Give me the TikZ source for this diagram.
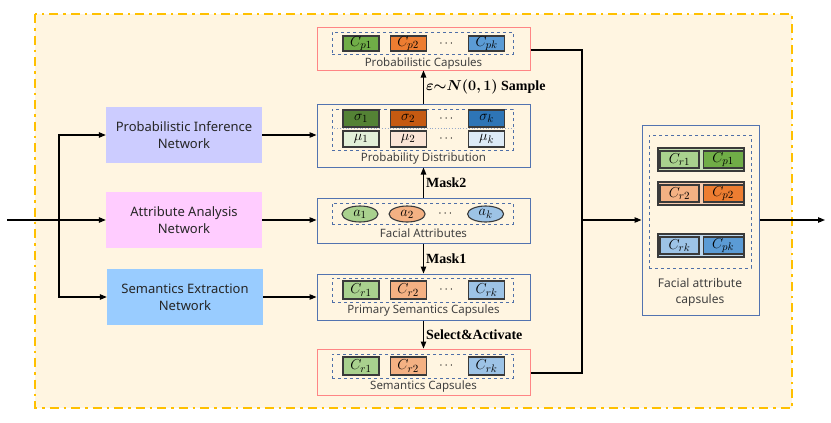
\documentclass[tikz,border=0pt]{standalone}
\usepackage{amsmath,bm}
\usepackage{fontspec}
\setmainfont{Liberation Serif}
\setsansfont{Noto Sans}
\usetikzlibrary{arrows.meta, positioning, shapes.geometric}
\definecolor{framey}{HTML}{FFC000}
\definecolor{cream}{HTML}{FFF5E1}
\definecolor{netp}{HTML}{CCCCFF}
\definecolor{neta}{HTML}{FFCCFF}
\definecolor{nets}{HTML}{99CCFF}
\definecolor{boxblue}{HTML}{5273B0}
\definecolor{boxred}{HTML}{FF8585}
\definecolor{dashblue}{HTML}{4F6FA8}
\definecolor{cellline}{HTML}{3A3A3A}
\definecolor{g1}{HTML}{A9D18E}
\definecolor{g2}{HTML}{70AD47}
\definecolor{g3}{HTML}{548235}
\definecolor{g4}{HTML}{E2F0D9}
\definecolor{g5}{HTML}{C5E0B4}
\definecolor{o1}{HTML}{F4B183}
\definecolor{o2}{HTML}{ED7D31}
\definecolor{o3}{HTML}{C55A11}
\definecolor{o4}{HTML}{FBE5D6}
\definecolor{o5}{HTML}{F8CBAD}
\definecolor{b1}{HTML}{9DC3E6}
\definecolor{b2}{HTML}{5B9BD5}
\definecolor{b3}{HTML}{2E75B6}
\definecolor{b4}{HTML}{DEEBF7}
\definecolor{b5}{HTML}{BDD7EE}

\begin{document}
\begin{tikzpicture}[
        x=1pt, y=-1pt,
        netbox/.style={rectangle, align=center, minimum width=156pt, minimum height=56pt, inner sep=0pt, font=\sffamily\fontsize{13}{17}\selectfont, text=black!85},
        modbox/.style={rectangle, draw=boxblue, line width=1pt, minimum width=213pt, inner sep=0pt},
        capbox/.style={modbox, draw=boxred},
        dashbox/.style={rectangle, draw=dashblue, dashed, line width=1pt, inner sep=0pt},
        caption/.style={font=\sffamily\fontsize{11.5}{15}\selectfont, text=black!75, inner sep=0pt},
        cell/.style={rectangle, draw=cellline, line width=1.1pt, minimum width=36pt, minimum height=15pt, inner sep=0pt, font=\fontsize{15}{15}\selectfont},
        attcell/.style={ellipse, draw=cellline, line width=1.1pt, minimum width=36pt, minimum height=16pt, inner sep=0pt, font=\fontsize{15}{15}\selectfont},
        dots/.style={minimum width=41pt, inner sep=0pt, font=\fontsize{12}{12}\selectfont},
        pairbox/.style={rectangle, draw=cellline, line width=1.1pt, minimum width=86pt, minimum height=23pt, inner sep=0pt},
        paircell/.style={cell, minimum width=39pt, minimum height=17pt},
        lbl/.style={font=\bfseries\fontsize{14}{16}\selectfont, inner sep=2pt},
        arrow/.style={-{Triangle[length=7pt, width=5.5pt]}, line width=1.1pt},
        link/.style={line width=1.1pt}
    ]
        \useasboundingbox (0,0) rectangle (831,423);

        % FRAME
        \draw[framey, fill=cream, line width=2.2pt, dash pattern=on 9pt off 5pt on 2.5pt off 5pt] (35,14) rectangle (792,408);

        % NETWORKS
        \node[netbox, fill=netp] (probnet) at (184,135) {Probabilistic Inference\\Network};
        \node[netbox, fill=neta] (attnet) at (184,220) {Attribute Analysis\\Network};
        \node[netbox, fill=nets] (semnet) at (185,297) {Semantics Extraction\\Network};

        % PROBABILISTIC CAPSULES
        \node[capbox, minimum height=43pt] (probcaps) at (423.5,48.5) {};
        \node[dashbox, minimum width=181pt, minimum height=22pt] (probcapsdash) at (422.5,43) {};
        \node[cell, fill=g2] (cp1) at (361,43.5) {$C_{p1}$};
        \node[cell, fill=o2, right=10pt of cp1] (cp2) {$C_{p2}$};
        \node[dots, right=0pt of cp2] (cpdots) {$\cdots$};
        \node[cell, fill=b2, right=0pt of cpdots] (cpk) {$C_{pk}$};
        \node[caption] at (423.5,64) {Probabilistic Capsules};

        % PROBABILITY DISTRIBUTION
        \node[modbox, minimum height=63pt] (probdist) at (423.5,135.5) {};
        \node[dashbox, minimum width=181pt, minimum height=41pt] (probdistdash) at (422.5,129.5) {};
        \draw[dashblue!60, dotted, line width=0.8pt] (probdistdash.west |- 0,128.5) -- (probdistdash.east |- 0,128.5);
        \node[cell, fill=g3, minimum height=17pt] (s1) at (361,118.5) {$\sigma_1$};
        \node[cell, fill=o3, minimum height=17pt, right=10pt of s1] (s2) {$\sigma_2$};
        \node[dots, right=0pt of s2] (sdots) {$\cdots$};
        \node[cell, fill=b3, minimum height=17pt, right=0pt of sdots] (sk) {$\sigma_k$};
        \node[cell, fill=g4, minimum height=16pt] (m1) at (361,139) {$\mu_1$};
        \node[cell, fill=o4, minimum height=16pt, right=10pt of m1] (m2) {$\mu_2$};
        \node[dots, right=0pt of m2] (mdots) {$\cdots$};
        \node[cell, fill=b4, minimum height=16pt, right=0pt of mdots] (mk) {$\mu_k$};
        \node[caption] at (423.5,159) {Probability Distribution};

        % FACIAL ATTRIBUTES
        \node[modbox, minimum height=45pt] (facattr) at (423.5,220.5) {};
        \node[dashbox, minimum width=181pt, minimum height=21pt] (facattrdash) at (422.5,213.5) {};
        \node[attcell, fill=g1] (a1) at (360,214) {$a_1$};
        \node[attcell, fill=o1, right=10pt of a1] (a2) {$a_2$};
        \node[dots, right=0pt of a2] (adots) {$\cdots$};
        \node[attcell, fill=b1, right=0pt of adots] (ak) {$a_k$};
        \node[caption] at (423.5,233.5) {Facial Attributes};

        % PRIMARY SEMANTICS CAPSULES
        \node[modbox, minimum height=46pt] (primcaps) at (423.5,297) {};
        \node[dashbox, minimum width=181pt, minimum height=24pt] (primcapsdash) at (422.5,290) {};
        \node[cell, fill=g1, minimum height=18pt] (pr1) at (361,290) {$C_{r1}$};
        \node[cell, fill=o1, minimum height=18pt, right=10pt of pr1] (pr2) {$C_{r2}$};
        \node[dots, right=0pt of pr2] (prdots) {$\cdots$};
        \node[cell, fill=b1, minimum height=18pt, right=0pt of prdots] (prk) {$C_{rk}$};
        \node[caption] at (423.5,311) {Primary Semantics Capsules};

        % SEMANTICS CAPSULES
        \node[capbox, minimum height=46pt] (semcaps) at (423.5,372) {};
        \node[dashbox, minimum width=181pt, minimum height=24pt] (semcapsdash) at (422.5,366) {};
        \node[cell, fill=g1, minimum height=18pt] (sr1) at (361,366) {$C_{r1}$};
        \node[cell, fill=o1, minimum height=18pt, right=10pt of sr1] (sr2) {$C_{r2}$};
        \node[dots, right=0pt of sr2] (srdots) {$\cdots$};
        \node[cell, fill=b1, minimum height=18pt, right=0pt of srdots] (srk) {$C_{rk}$};
        \node[caption] at (423.5,387) {Semantics Capsules};

        % FACIAL ATTRIBUTE CAPSULES
        \node[modbox, minimum width=117pt, minimum height=190pt] (faccaps) at (700.5,220) {};
        \node[dashbox, minimum width=102pt, minimum height=133pt] (faccapsdash) at (700,201.5) {};
        \node[pairbox, fill=g5] (pair1) at (701,159.5) {};
        \node[paircell, fill=g1, anchor=west] (fr1) at ([xshift=2pt]pair1.west) {$C_{r1}$};
        \node[paircell, fill=g2, minimum width=40pt, right=3pt of fr1] (fp1) {$C_{p1}$};
        \node[pairbox, fill=o5] (pair2) at (701,193.5) {};
        \node[paircell, fill=o1, anchor=west] (fr2) at ([xshift=2pt]pair2.west) {$C_{r2}$};
        \node[paircell, fill=o2, minimum width=40pt, right=3pt of fr2] (fp2) {$C_{p2}$};
        \node[pairbox, fill=b5] (pair3) at (701,245.5) {};
        \node[paircell, fill=b1, anchor=west] (frk) at ([xshift=2pt]pair3.west) {$C_{rk}$};
        \node[paircell, fill=b2, minimum width=40pt, right=3pt of frk] (fpk) {$C_{pk}$};
        \node[caption, align=center, font=\sffamily\fontsize{12}{16}\selectfont] at (700,292) {Facial attribute\\capsules};

        % ARROWS
        \coordinate (in) at (7,220);
        \coordinate (split) at (59,220);
        \coordinate (join) at (582,220);
        \coordinate (out) at (825,220);
        \draw[arrow] (in) -- (attnet.west);
        \draw[arrow] (split) |- (probnet.west);
        \draw[arrow] (split) |- (semnet.west);
        \draw[arrow] (probnet.east) -- (probdist.west |- probnet.east);
        \draw[arrow] (attnet.east) -- (facattr.west |- attnet.east);
        \draw[arrow] (semnet.east) -- (primcaps.west |- semnet.east);
        \draw[arrow] (probdist.north) -- node[lbl, right] {$\bm{\varepsilon{\sim}N(0,1)}$ Sample} (probcaps.south);
        \draw[arrow] (facattr.north) -- node[lbl, right] {Mask2} (probdist.south);
        \draw[arrow] (facattr.south) -- node[lbl, right] {Mask1} (primcaps.north);
        \draw[arrow] (primcaps.south) -- node[lbl, right] {Select\&Activate} (semcaps.north);
        \draw[link] (probcaps.east |- 0,50) -| (join);
        \draw[link] (semcaps.east |- 0,373) -| (join);
        \draw[arrow] (join) -- (faccaps.west);
        \draw[arrow] (faccaps.east) -- (out);
    \end{tikzpicture}
\end{document}
